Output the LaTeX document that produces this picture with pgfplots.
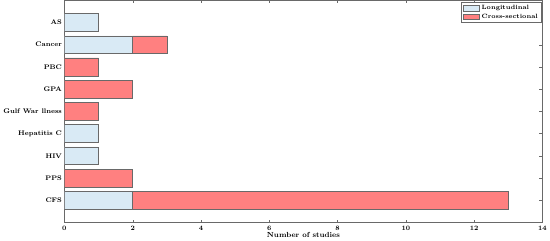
\documentclass[border=0pt]{standalone}
\usepackage{pgfplots}
\pgfplotsset{compat=1.18}
\definecolor{longi}{RGB}{217,234,245}
\definecolor{cross}{RGB}{255,128,128}
\definecolor{edge}{RGB}{105,105,105}
\begin{document}
\begin{tikzpicture}
\begin{axis}[
  scale only axis,
  width=486bp, height=226bp,
  xbar stacked,
  bar width=0.8,
  xmin=0, xmax=14, ymin=0, ymax=10,
  xtick={0,2,...,14},
  ytick={1,...,9},
  yticklabels={CFS,PPS,HIV,Hepatitis C,Gulf War llness,GPA,PBC,Cancer,AS},
  tick align=inside,
  major tick length=3pt,
  axis line style={edge},
  tick style={edge},
  tick label style={font=\bfseries\fontsize{6.8}{8}\selectfont},
  yticklabel style={xshift=1pt},
  /pgf/number format/assume math mode=true,
  xlabel={Number of studies},
  xlabel style={font=\bfseries\fontsize{7.5}{8}\selectfont, yshift=5pt},
  legend style={at={(0.997,0.99)}, anchor=north east, font=\bfseries\fontsize{6.3}{6.5}\selectfont,
    draw=edge, inner sep=1pt, row sep=-1.5pt},
  legend cell align=left,
  area legend,
]
\addplot[fill=longi, draw=edge] coordinates {
  (2,1) (0,2) (1,3) (1,4) (0,5) (0,6) (0,7) (2,8) (1,9)
};
\addlegendentry{Longitudinal}
\addplot[fill=cross, draw=edge] coordinates {
  (11,1) (2,2) (0,3) (0,4) (1,5) (2,6) (1,7) (1,8) (0,9)
};
\addlegendentry{Cross-sectional}
\end{axis}
\end{tikzpicture}
\end{document}
